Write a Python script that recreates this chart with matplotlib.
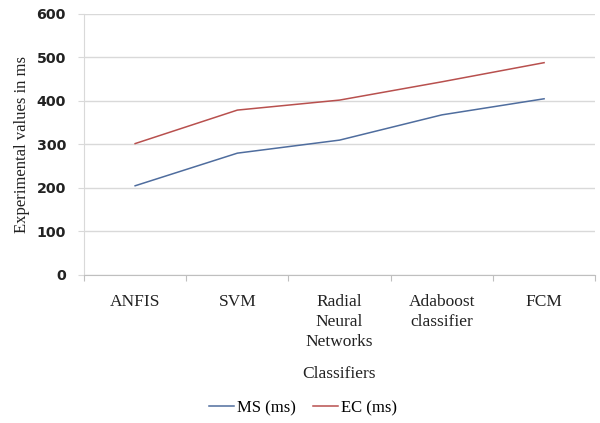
import numpy as np
import matplotlib.pyplot as plt

# classifier timing results
classifiers = ['ANFIS', 'SVM', 'Radial\nNeural\nNetworks', 'Adaboost\nclassifier', 'FCM']
ms_values = [205, 280, 310, 368, 405]
ec_values = [302, 379, 402, 444, 488]

serif = 'Liberation Serif'
grid_col = '#d9d9d9'

fig = plt.figure(figsize=(6, 4.23), dpi=100)
ax = fig.add_axes([0.14, 0.35, 0.852, 0.617])

x = np.arange(len(classifiers))
ax.plot(x, ms_values, color='#4f6d9e', lw=1.1, label='MS (ms)')
ax.plot(x, ec_values, color='#b8504e', lw=1.1, label='EC (ms)')

ax.set_xlim(-0.5, len(classifiers) - 0.5)
ax.set_ylim(0, 600)
ax.set_yticks(np.arange(0, 601, 100))
ax.yaxis.grid(True, color=grid_col, lw=1)
ax.set_axisbelow(True)

# boundary ticks between categories, labels centred on categories
ax.set_xticks(np.arange(len(classifiers) + 1) - 0.5)
ax.set_xticklabels([])
ax.set_xticks(x, minor=True)
ax.set_xticklabels(classifiers, minor=True, family=serif, fontsize=12.5,
                   color='#222222', linespacing=1.3)
ax.tick_params(axis='x', which='major', length=4, color='#bfbfbf', direction='out')
ax.tick_params(axis='x', which='minor', length=0, pad=14)
ax.tick_params(axis='y', length=4, color=grid_col, pad=9)
for lab in ax.get_yticklabels():
    lab.set_fontweight('bold')
    lab.set_fontsize(10.3)
    lab.set_color('#222222')

for side in ['top', 'right']:
    ax.spines[side].set_visible(False)
ax.spines['left'].set_color(grid_col)
ax.spines['bottom'].set_color('#bfbfbf')

ax.set_ylabel('Experimental values in ms', family=serif, fontsize=12, color='#222222',
              labelpad=5)
fig.text(0.565, 0.116, 'Classifiers', family=serif, fontsize=12.5,
         color='#222222', ha='center', va='center')

fig.legend(loc='center', bbox_to_anchor=(0.505, 0.035), ncol=2, frameon=False,
           prop={'family': serif, 'size': 12}, handlelength=1.5, handletextpad=0.2,
           columnspacing=1.0)

fig.savefig('out.png', dpi=100)
